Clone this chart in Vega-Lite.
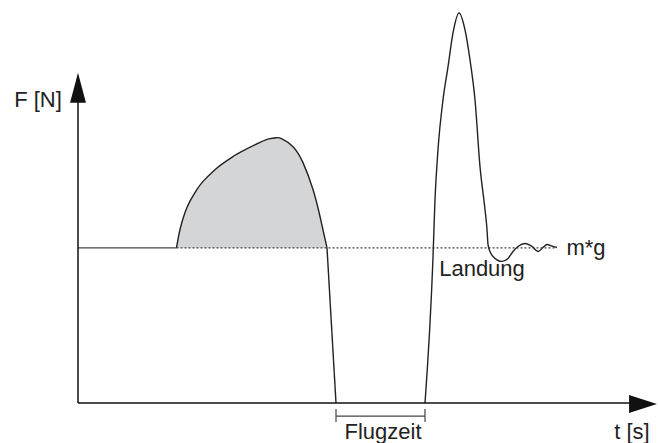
{
  "$schema": "https://vega.github.io/schema/vega-lite/v6.json",
  "width": 658,
  "height": 443,
  "autosize": {"type": "fit", "contains": "padding"},
  "padding": 0,
  "background": "white",
  "config": {"view": {"stroke": null}},
  "datasets": {
    "hump": [
      {"t": 0.4925, "F": 700}, {"t": 0.51, "F": 783}, {"t": 0.535, "F": 859.5}, {"t": 0.56, "F": 911},
      {"t": 0.5935, "F": 962}, {"t": 0.6265, "F": 1001}, {"t": 0.6765, "F": 1046}, {"t": 0.7265, "F": 1082},
      {"t": 0.7765, "F": 1113}, {"t": 0.81, "F": 1131}, {"t": 0.91, "F": 1176},
      {"t": 0.96, "F": 1193}, {"t": 0.99, "F": 1197}, {"t": 1.02, "F": 1192}, {"t": 1.075, "F": 1156.5},
      {"t": 1.125, "F": 1084.5}, {"t": 1.175, "F": 963}, {"t": 1.21, "F": 841.5}, {"t": 1.245, "F": 700}
    ],
    "drop": [
      {"t": 1.245, "F": 700}, {"t": 1.29, "F": 0}
    ],
    "landing": [
      {"t": 1.735, "F": 0}, {"t": 1.775, "F": 657}, {"t": 1.785, "F": 918},
      {"t": 1.8, "F": 1143}, {"t": 1.825, "F": 1368}, {"t": 1.85, "F": 1516.5},
      {"t": 1.875, "F": 1669.5}, {"t": 1.905, "F": 1759.5}, {"t": 1.935, "F": 1683},
      {"t": 1.96, "F": 1548}, {"t": 1.985, "F": 1368}, {"t": 2.01, "F": 1066.5},
      {"t": 2.035, "F": 873}, {"t": 2.045, "F": 783}, {"t": 2.05, "F": 715.5},
      {"t": 2.06, "F": 684}, {"t": 2.075, "F": 661.5}, {"t": 2.12, "F": 639},
      {"t": 2.15, "F": 652.5}, {"t": 2.175, "F": 684}, {"t": 2.2, "F": 706.5},
      {"t": 2.235, "F": 720}, {"t": 2.27, "F": 706.5}, {"t": 2.3, "F": 684},
      {"t": 2.325, "F": 702}, {"t": 2.345, "F": 715.5}, {"t": 2.375, "F": 706.5},
      {"t": 2.395, "F": 702}
    ],
    "axes": [
      {"t": 0, "F": 0, "t2": 0, "F2": 1360},
      {"t": 0, "F": 0, "t2": 2.76, "F2": 0}
    ],
    "thin": [
      {"t": 0, "F": 700, "t2": 0.4925, "F2": 700},
      {"t": 1.29, "F": -58.5, "t2": 1.735, "F2": -58.5},
      {"t": 1.29, "F": -27, "t2": 1.29, "F2": -85.5},
      {"t": 1.735, "F": -27, "t2": 1.735, "F2": -85.5}
    ],
    "dotted": [
      {"t": 0.4925, "F": 700, "t2": 2.395, "F2": 700}
    ],
    "arrows": [
      {"dir": "up", "t": 0, "F": 1422},
      {"dir": "right", "t": 2.825, "F": -4}
    ],
    "labels": [
      {"label": "F [N]", "t": -0.2, "F": 1368},
      {"label": "t [s]", "t": 2.77, "F": -130.5},
      {"label": "Flugzeit", "t": 1.525, "F": -130.5},
      {"label": "Landung", "t": 2.02, "F": 603},
      {"label": "m*g", "t": 2.54, "F": 697.5}
    ]
  },
  "encoding": {
    "x": {"field": "t", "type": "quantitative", "scale": {"domain": [-0.39, 2.9], "nice": false, "zero": false}, "axis": null},
    "y": {"field": "F", "type": "quantitative", "scale": {"domain": [-175.5, 1818], "nice": false, "zero": false}, "axis": null}
  },
  "layer": [
    {
      "data": {"name": "hump"},
      "mark": {"type": "area", "interpolate": "natural", "color": "#d4d5d6"},
      "encoding": {"y2": {"datum": 700}}
    },
    {
      "data": {"name": "thin"},
      "mark": {"type": "rule", "color": "#444", "strokeWidth": 1.2},
      "encoding": {"x2": {"field": "t2"}, "y2": {"field": "F2"}}
    },
    {
      "data": {"name": "dotted"},
      "mark": {"type": "rule", "color": "#444", "strokeWidth": 1.2, "strokeDash": [2, 2]},
      "encoding": {"x2": {"field": "t2"}, "y2": {"field": "F2"}}
    },
    {
      "data": {"name": "hump"},
      "mark": {"type": "line", "interpolate": "natural", "color": "#222", "strokeWidth": 1.4},
      "encoding": {"order": {"field": "t"}}
    },
    {
      "data": {"name": "drop"},
      "mark": {"type": "line", "interpolate": "linear", "color": "#222", "strokeWidth": 1.4},
      "encoding": {"order": {"field": "t"}}
    },
    {
      "data": {"name": "landing"},
      "mark": {"type": "line", "interpolate": "monotone", "color": "#222", "strokeWidth": 1.4},
      "encoding": {"order": {"field": "t"}}
    },
    {
      "data": {"name": "axes"},
      "mark": {"type": "rule", "color": "#111", "strokeWidth": 1.5},
      "encoding": {"x2": {"field": "t2"}, "y2": {"field": "F2"}}
    },
    {
      "data": {"name": "arrows"},
      "mark": {"type": "point", "filled": true, "color": "#111", "opacity": 1, "size": 900},
      "encoding": {
        "shape": {"field": "dir", "type": "nominal", "scale": {"domain": ["up", "right"], "range": ["M0,-1L0.53,1L-0.53,1Z", "M0.93,0L-0.93,0.6L-0.93,-0.6Z"]}, "legend": null}
      }
    },
    {
      "data": {"name": "labels"},
      "mark": {"type": "text", "font": "Liberation Sans", "fontSize": 22, "color": "#222", "align": "center", "baseline": "middle"},
      "encoding": {"text": {"field": "label"}}
    }
  ]
}
